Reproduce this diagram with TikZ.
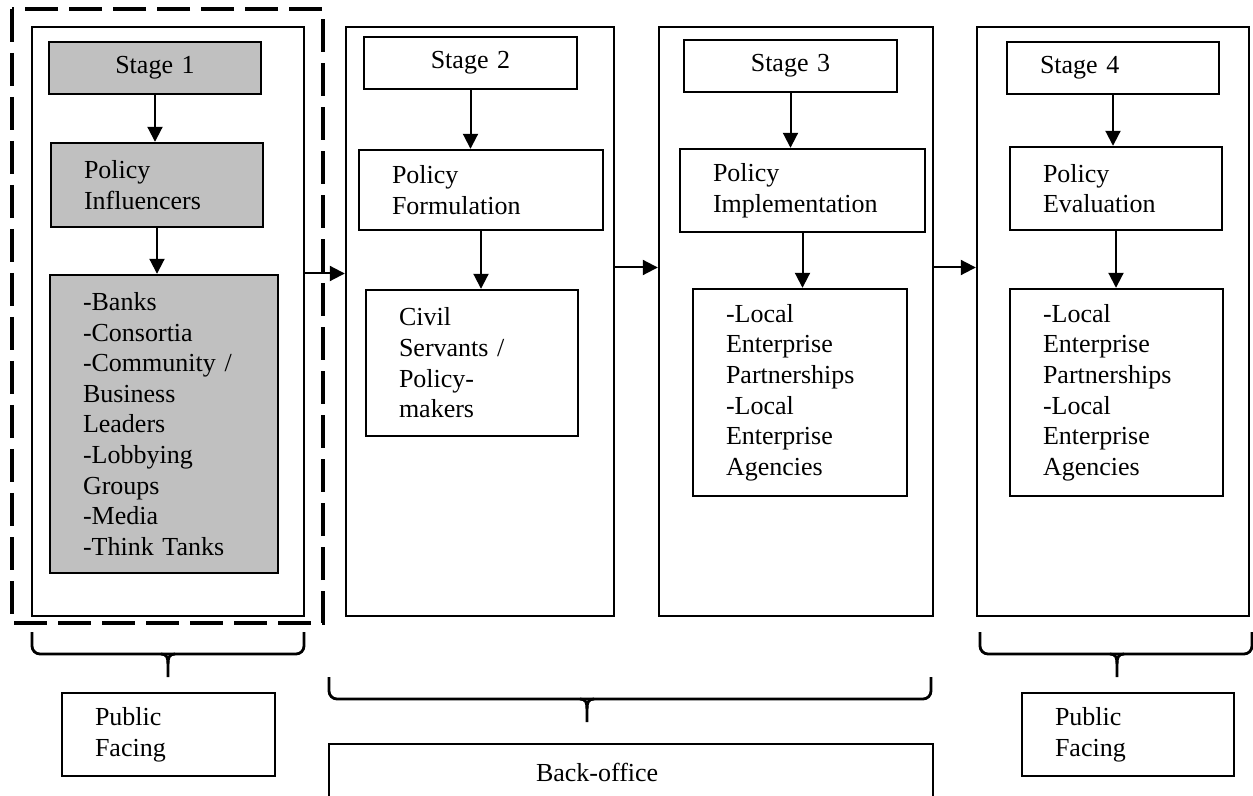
\documentclass[tikz,border=0pt]{standalone}
\usepackage{fontspec}
\setmainfont{Liberation Serif}
\usepackage{tikz}
\usetikzlibrary{arrows.meta}
\definecolor{boxgrey}{RGB}{192,192,192}

\begin{document}
\begin{tikzpicture}[
    x=0.5pt, y=-0.5pt,
    font=\fontsize{13}{15.3}\selectfont,
    column/.style={draw, rectangle, line width=1.2pt, inner sep=0pt, minimum height=294.5pt},
    box/.style={draw, rectangle, line width=1.2pt, inner xsep=16.5pt, inner ysep=0pt, align=left},
    shaded/.style={box, fill=boxgrey},
    arrow/.style={-{Triangle[length=7.5pt, width=7.5pt]}, line width=1pt},
    bracket/.style={line width=1.4pt, rounded corners=4pt},
    outline/.style={line width=2pt, dash pattern=on 16.5pt off 5.5pt}
]
    \useasboundingbox (0,0) rectangle (1253,796);

    % Public facing part of stage 1
    \draw[outline] (12,9) rectangle (323,623);

    % Columns
    \node[column, minimum width=136pt] (col1) at (168,321.5) {};
    \node[column, minimum width=134pt] (col2) at (480,321.5) {};
    \node[column, minimum width=137pt] (col3) at (796,321.5) {};
    \node[column, minimum width=136pt] (col4) at (1113,321.5) {};

    % Stage 1
    \node[shaded, text width=73pt, minimum height=26pt, align=center] (stage1) at (155,68) {Stage 1};
    \node[shaded, text width=73pt, minimum height=42pt] (policy1) at (157,185) {Policy\\Influencers};
    \node[shaded, text width=81pt, minimum height=149pt] (actors1) at (164,424)
        {-Banks\\-Consortia\\-Community /\\Business\\Leaders\\-Lobbying\\Groups\\-Media\\-Think Tanks};

    % Stage 2
    \node[box, text width=73.5pt, minimum height=26pt, align=center] (stage2) at (470.5,63) {Stage 2};
    \node[box, text width=89pt, minimum height=40pt] (policy2) at (481,190) {Policy\\Formulation};
    \node[box, text width=73pt, minimum height=73pt] (actors2) at (472,363)
        {Civil\\Servants /\\Policy-\\makers};

    % Stage 3
    \node[box, text width=73.5pt, minimum height=26pt, align=center] (stage3) at (790.5,66) {Stage 3};
    \node[box, text width=89.5pt, minimum height=41.5pt] (policy3) at (802.5,190.5) {Policy\\Implementation};
    \node[box, text width=74pt, minimum height=103.5pt] (actors3) at (800,392.5)
        {-Local\\Enterprise\\Partnerships\\-Local\\Enterprise\\Agencies};

    % Stage 4
    \node[box, text width=73pt, minimum height=26pt] (stage4) at (1113,68) {Stage 4};
    \node[box, text width=73pt, minimum height=41.5pt] (policy4) at (1116,188.5) {Policy\\Evaluation};
    \node[box, text width=73.5pt, minimum height=103.5pt] (actors4) at (1116.5,392.5)
        {-Local\\Enterprise\\Partnerships\\-Local\\Enterprise\\Agencies};

    % Arrows
    \foreach \i in {1,...,4} {
        \draw[arrow] (stage\i.south) -- (stage\i.south |- policy\i.north);
        \draw[arrow] (policy\i.south) -- (policy\i.south |- actors\i.north);
    }
    \draw[arrow] ([yshift=24pt]col1.east) -- ([yshift=24pt]col2.west);
    \draw[arrow] ([yshift=27pt]col2.east) -- ([yshift=27pt]col3.west);
    \draw[arrow] ([yshift=27pt]col3.east) -- ([yshift=27pt]col4.west);

    % Brackets
    \foreach \xa/\xm/\xb/\yt in {32/168/304/632, 329/587/931/677, 980/1117/1252/632} {
        \draw[bracket] (\xa,\yt) -- (\xa,\yt+22) -- (\xb,\yt+22) -- (\xb,\yt);
        \draw[line width=1.4pt] (\xm-7,\yt+22) .. controls (\xm-1,\yt+22) and (\xm,\yt+26) .. (\xm,\yt+32) -- (\xm,\yt+45);
        \draw[line width=1.4pt] (\xm+7,\yt+22) .. controls (\xm+1,\yt+22) and (\xm,\yt+26) .. (\xm,\yt+32);
    }

    % Audience
    \node[box, text width=73.5pt, minimum height=41.5pt] (face1) at (168.5,734.5) {Public\\Facing};
    \node[box, text width=73pt, minimum height=41.5pt] (face4) at (1128,734.5) {Public\\Facing};
    \node[box, text width=95pt, inner xsep=103.5pt, minimum height=28pt] (back) at (631,772) {Back-office};

\end{tikzpicture}
\end{document}
